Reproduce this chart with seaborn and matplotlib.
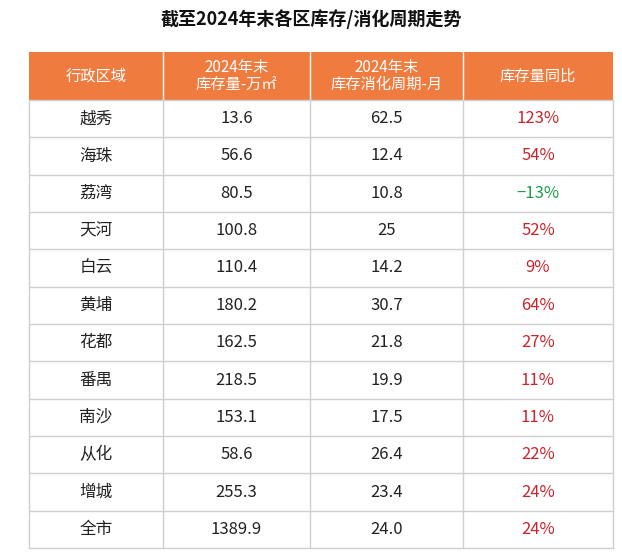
import matplotlib
matplotlib.use("Agg")
import matplotlib.pyplot as plt
import seaborn as sns
from matplotlib.patches import Rectangle

sns.set_theme(style="white", font="Noto Sans CJK SC")
plt.rcParams["font.family"] = "Noto Sans CJK SC"

title = "截至2024年末各区库存/消化周期走势"
headers = ["行政区域", "2024年末\n库存量-万㎡", "2024年末\n库存消化周期-月", "库存量同比"]
districts = ["越秀", "海珠", "荔湾", "天河", "白云", "黄埔", "花都", "番禺", "南沙", "从化", "增城", "全市"]
inventory = ["13.6", "56.6", "80.5", "100.8", "110.4", "180.2", "162.5", "218.5", "153.1", "58.6", "255.3", "1389.9"]
cycle = ["62.5", "12.4", "10.8", "25", "14.2", "30.7", "21.8", "19.9", "17.5", "26.4", "23.4", "24.0"]
yoy = [123, 54, -13, 52, 9, 64, 27, 11, 11, 22, 24, 24]

fig = plt.figure(figsize=(6.22, 5.59), dpi=100)
ax = fig.add_axes([0, 0, 1, 1])
ax.set_xlim(0, 622); ax.set_ylim(559, 0); ax.axis("off")

cols = [29, 163, 310, 463, 613]
top, htop, bottom = 52, 100, 548
rh = (bottom - htop) / len(districts)
orange = "#F07B3F"

ax.text(311, 19, title, ha="center", va="center", fontsize=13, fontweight="bold", color="#111111")
ax.add_patch(Rectangle((cols[0], top), cols[-1]-cols[0], htop-top, color=orange, lw=0))
for j, h in enumerate(headers):
    ax.text((cols[j]+cols[j+1])/2, (top+htop)/2, h, ha="center", va="center",
            fontsize=11, color="white", linespacing=1.0)
for x in cols[1:-1]:
    ax.plot([x, x], [top, htop], color="white", lw=1)

for i in range(len(districts)):
    y = htop + i*rh + rh/2
    vals = [districts[i], inventory[i], cycle[i], f"{yoy[i]}%".replace("-", "−")]
    for j, v in enumerate(vals):
        c = "#222222"
        if j == 3:
            c = "#C8252C" if yoy[i] >= 0 else "#1E9E4A"
        ax.text((cols[j]+cols[j+1])/2, y, v, ha="center", va="center", fontsize=12, color=c)
for i in range(len(districts)+1):
    y = htop + i*rh
    ax.plot([cols[0], cols[-1]], [y, y], color="#CFCFCF", lw=1)
for x in cols:
    ax.plot([x, x], [htop, bottom], color="#CFCFCF", lw=1)

fig.savefig("out.png", dpi=100)
